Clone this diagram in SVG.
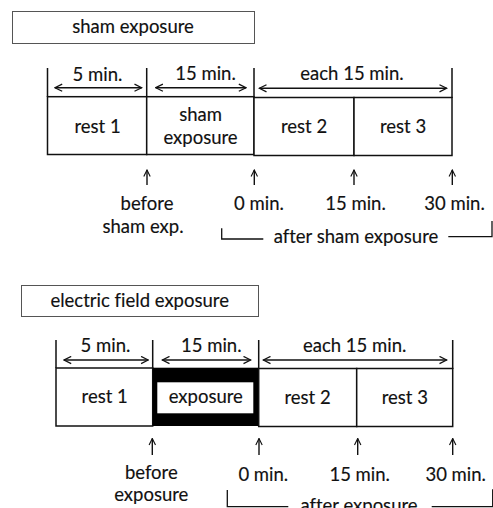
<svg xmlns="http://www.w3.org/2000/svg" width="493" height="508" viewBox="0 0 493 508">
<defs>
<marker id="ah" viewBox="0 0 10 10" refX="9" refY="5" markerWidth="9" markerHeight="9" markerUnits="userSpaceOnUse" orient="auto-start-reverse">
<path d="M1,1 L9,5 L1,9" fill="none" stroke="#111" stroke-width="1.4"/>
</marker>
<marker id="uh" viewBox="0 0 10 10" refX="9" refY="5" markerWidth="8" markerHeight="8" markerUnits="userSpaceOnUse" orient="auto">
<path d="M1,1 L9,5 L1,9" fill="none" stroke="#111" stroke-width="1.4"/>
</marker>
</defs>
<style>
text{font-family:Lato,"Liberation Sans",sans-serif;font-size:18.5px;fill:#111;text-anchor:middle;stroke:#111;stroke-width:0.15;font-variant-ligatures:none}
.tb{fill:#fff;stroke:#555;stroke-width:1}
.bx{fill:#fff;stroke:#111;stroke-width:1.5}
.tk{stroke:#111;stroke-width:1.5;fill:none}
.ar{stroke:#111;stroke-width:1.4;fill:none;marker-start:url(#ah);marker-end:url(#ah)}
.up{stroke:#111;stroke-width:1.4;fill:none;marker-end:url(#uh)}
.br{stroke:#111;stroke-width:1.3;fill:none}
</style>
<rect width="493" height="508" fill="#fff"/>

<g id="title-sham">
<rect class="tb" x="12.5" y="11.5" width="242" height="32"/>
<text x="133" y="33">sham exposure</text>
</g>
<g id="top-rest1">
<rect class="bx" x="47.5" y="96.7" width="99.2" height="57.8"/>
<text x="97.5" y="133">rest 1</text>
</g>
<g id="top-sham">
<rect class="bx" x="146.7" y="96.7" width="107.3" height="57.8"/>
<text x="200.5" y="121">sham</text>
<text x="200.5" y="144">exposure</text>
</g>
<g id="top-rest2">
<rect class="bx" x="254" y="97.5" width="100" height="58"/>
<text x="304" y="133">rest 2</text>
</g>
<g id="top-rest3">
<rect class="bx" x="354" y="97.5" width="98" height="58"/>
<text x="403" y="133">rest 3</text>
</g>
<g id="top-labels">
<text x="97.5" y="80.5">5 min.</text>
<text x="205.5" y="80">15 min.</text>
<text x="352" y="79.5">each 15 min.</text>
<text x="147" y="210">before</text>
<text x="143" y="233">sham exp.</text>
<text x="259" y="210">0 min.</text>
<text x="355.5" y="210">15 min.</text>
<text x="454.5" y="210">30 min.</text>
<text x="356" y="243">after sham exposure</text>
</g>

<g id="title-ef">
<rect class="tb" x="21.5" y="285.5" width="237" height="31"/>
<text x="139.7" y="307">electric field exposure</text>
</g>
<g id="bot-rest1">
<rect class="bx" x="56" y="368" width="96.7" height="58"/>
<text x="104.7" y="403">rest 1</text>
</g>
<g id="bot-exposure">
<rect x="152.7" y="367.7" width="105.6" height="58.3" fill="#000"/>
<rect x="157.3" y="382.3" width="96" height="31" fill="#fff"/>
<text x="205.8" y="403">exposure</text>
</g>
<g id="bot-rest2">
<rect class="bx" x="258.7" y="368.5" width="98" height="58"/>
<text x="307.5" y="403.5">rest 2</text>
</g>
<g id="bot-rest3">
<rect class="bx" x="356.7" y="368.5" width="96" height="58"/>
<text x="404.8" y="403.5">rest 3</text>
</g>
<g id="bot-labels">
<text x="105.5" y="352">5 min.</text>
<text x="211.3" y="351.5">15 min.</text>
<text x="354.7" y="351.7">each 15 min.</text>
<text x="151.3" y="478.5">before</text>
<text x="151.3" y="501">exposure</text>
<text x="263.3" y="481">0 min.</text>
<text x="359.7" y="481">15 min.</text>
<text x="455.7" y="481">30 min.</text>
<text x="359" y="512">after exposure</text>
</g>

<g id="connectors">
<path class="tk" d="M47.5,68V97 M146.7,68V97 M254,68V98 M452,68V98"/>
<path class="ar" d="M55,87.7H141.7"/>
<path class="ar" d="M155.7,87.7H246"/>
<path class="ar" d="M259.3,88.3H446.7"/>
<path class="up" d="M147,185V170"/>
<path class="up" d="M254.3,185V170"/>
<path class="up" d="M354,185V170"/>
<path class="up" d="M452.3,185V170"/>
<path class="br" d="M221.7,228.3V239H263.3 M448.3,236.7H492V221"/>

<path class="tk" d="M56,340V368 M152.7,340V368 M258.7,340V369 M452.7,340V369"/>
<path class="ar" d="M64,360H148.3"/>
<path class="ar" d="M162.3,360H250.7"/>
<path class="ar" d="M263.3,360H446.7"/>
<path class="up" d="M152.3,455V438.5"/>
<path class="up" d="M259,455V438.5"/>
<path class="up" d="M357.7,455V438.5"/>
<path class="up" d="M452.7,455V438.5"/>
<path class="br" d="M227.3,490V506.7H288.3 M431.7,506.7H492.7V489.3"/>
</g>
</svg>
